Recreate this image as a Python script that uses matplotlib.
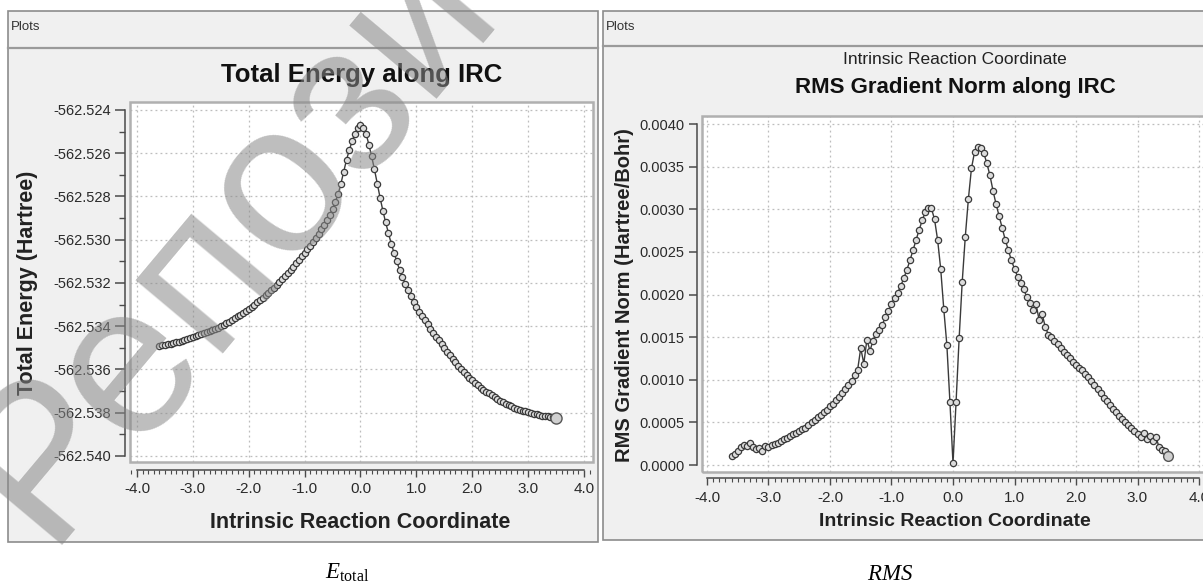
import numpy as np
import matplotlib.pyplot as plt
from matplotlib.patches import Rectangle
from matplotlib.lines import Line2D
from matplotlib.ticker import MultipleLocator, FormatStrFormatter

plt.rcParams['font.family'] = ['Liberation Sans', 'DejaVu Sans']
plt.rcParams['mathtext.fontset'] = 'custom'
plt.rcParams['mathtext.rm'] = 'Liberation Serif'
plt.rcParams['mathtext.it'] = 'Liberation Serif:italic'

W, H = 1203, 585

## IRC points (reactant side, product side)
irc_left = [-3.60, -3.55, -3.50, -3.45, -3.40, -3.35, -3.30, -3.25, -3.20, -3.15,
            -3.10, -3.05, -3.00, -2.95, -2.90, -2.85, -2.80, -2.75, -2.70, -2.65,
            -2.60, -2.55, -2.50, -2.45, -2.40, -2.35, -2.30, -2.25, -2.20, -2.15,
            -2.10, -2.05, -2.00, -1.95, -1.90, -1.85, -1.80, -1.75, -1.70, -1.65,
            -1.60, -1.55, -1.50, -1.45, -1.40, -1.35, -1.30, -1.25, -1.20, -1.15,
            -1.10, -1.05, -1.00, -0.95, -0.90, -0.85, -0.80, -0.75, -0.70, -0.65,
            -0.60, -0.55, -0.50, -0.45, -0.40, -0.35, -0.30, -0.25, -0.20, -0.15,
            -0.10, -0.05, 0.00]
irc_right = [0.05, 0.10, 0.15, 0.20, 0.25, 0.30, 0.35, 0.40, 0.45, 0.50,
             0.55, 0.60, 0.65, 0.70, 0.75, 0.80, 0.85, 0.90, 0.95, 1.00,
             1.05, 1.10, 1.15, 1.20, 1.25, 1.30, 1.35, 1.40, 1.45, 1.50,
             1.55, 1.60, 1.65, 1.70, 1.75, 1.80, 1.85, 1.90, 1.95, 2.00,
             2.05, 2.10, 2.15, 2.20, 2.25, 2.30, 2.35, 2.40, 2.45, 2.50,
             2.55, 2.60, 2.65, 2.70, 2.75, 2.80, 2.85, 2.90, 2.95, 3.00,
             3.05, 3.10, 3.15, 3.20, 3.25, 3.30, 3.35, 3.40, 3.45, 3.50]

## total energy (Hartree)
energy_left = [-562.53490, -562.53488, -562.53486, -562.53484, -562.53481, -562.53478, -562.53475, -562.53471, -562.53467, -562.53463,
               -562.53459, -562.53455, -562.53450, -562.53446, -562.53442, -562.53437, -562.53432, -562.53427, -562.53422, -562.53417,
               -562.53412, -562.53406, -562.53400, -562.53393, -562.53386, -562.53379, -562.53371, -562.53363, -562.53355, -562.53347,
               -562.53338, -562.53329, -562.53320, -562.53310, -562.53300, -562.53290, -562.53279, -562.53268, -562.53257, -562.53246,
               -562.53234, -562.53222, -562.53210, -562.53197, -562.53183, -562.53169, -562.53154, -562.53139, -562.53124, -562.53109,
               -562.53093, -562.53077, -562.53060, -562.53044, -562.53027, -562.53009, -562.52991, -562.52972, -562.52952, -562.52931,
               -562.52910, -562.52884, -562.52856, -562.52824, -562.52790, -562.52740, -562.52685, -562.52630, -562.52585, -562.52545,
               -562.52510, -562.52485, -562.52470]
energy_right = [-562.52485, -562.52510, -562.52560, -562.52615, -562.52675, -562.52740, -562.52805, -562.52865, -562.52920, -562.52970,
                -562.53018, -562.53060, -562.53100, -562.53140, -562.53173, -562.53204, -562.53233, -562.53260, -562.53286, -562.53310,
                -562.53332, -562.53353, -562.53373, -562.53392, -562.53411, -562.53430, -562.53448, -562.53466, -562.53484, -562.53501,
                -562.53518, -562.53535, -562.53551, -562.53567, -562.53583, -562.53598, -562.53612, -562.53625, -562.53638, -562.53650,
                -562.53662, -562.53673, -562.53684, -562.53694, -562.53702, -562.53710, -562.53719, -562.53728, -562.53736, -562.53744,
                -562.53751, -562.53758, -562.53765, -562.53771, -562.53777, -562.53782, -562.53786, -562.53790, -562.53794, -562.53798,
                -562.53801, -562.53804, -562.53807, -562.53810, -562.53813, -562.53815, -562.53817, -562.53819, -562.53821, -562.53823]

## RMS gradient norm (Hartree/Bohr)
rms_left = [0.00010, 0.00013, 0.00017, 0.00021, 0.00024, 0.00022, 0.00026, 0.00021, 0.00019, 0.00020,
            0.00017, 0.00022, 0.00021, 0.00024, 0.00025, 0.00026, 0.00028, 0.00030, 0.00032, 0.00034,
            0.00036, 0.00038, 0.00040, 0.00042, 0.00044, 0.00047, 0.00050, 0.00053, 0.00056, 0.00059,
            0.00062, 0.00065, 0.00069, 0.00072, 0.00076, 0.00080, 0.00085, 0.00089, 0.00094, 0.00099,
            0.00105, 0.00112, 0.00137, 0.00119, 0.00147, 0.00134, 0.00146, 0.00154, 0.00158, 0.00164,
            0.00174, 0.00181, 0.00189, 0.00196, 0.00202, 0.00210, 0.00219, 0.00229, 0.00240, 0.00252,
            0.00264, 0.00276, 0.00287, 0.00297, 0.00302, 0.00301, 0.00288, 0.00264, 0.00230, 0.00183,
            0.00141, 0.00074, 0.00002]
rms_right = [0.00074, 0.00149, 0.00215, 0.00268, 0.00312, 0.00348, 0.00367, 0.00373, 0.00372, 0.00366,
             0.00354, 0.00340, 0.00322, 0.00306, 0.00292, 0.00278, 0.00264, 0.00252, 0.00240, 0.00230,
             0.00221, 0.00213, 0.00206, 0.00197, 0.00190, 0.00182, 0.00189, 0.00170, 0.00177, 0.00162,
             0.00153, 0.00150, 0.00146, 0.00142, 0.00137, 0.00133, 0.00129, 0.00125, 0.00121, 0.00117,
             0.00114, 0.00111, 0.00107, 0.00103, 0.00098, 0.00094, 0.00089, 0.00084, 0.00079, 0.00075,
             0.00070, 0.00066, 0.00062, 0.00058, 0.00054, 0.00051, 0.00047, 0.00044, 0.00040, 0.00036,
             0.00033, 0.00038, 0.00031, 0.00034, 0.00028, 0.00033, 0.00021, 0.00018, 0.00016, 0.00010]

irc = irc_left + irc_right
energy = energy_left + energy_right
rms = rms_left + rms_right


def fx(px):
    return px / W


def fy(py):
    return 1 - py / H


def frac(x0, y0, x1, y1):
    return [x0 / W, 1 - y1 / H, (x1 - x0) / W, (y1 - y0) / H]


fig = plt.figure(figsize=(W / 100, H / 100), dpi=100)


def panel(x0, x1, y0, y1, hdr):
    fig.add_artist(Rectangle((fx(x0), fy(y1)), fx(x1) - fx(x0), fy(y0) - fy(y1),
                             transform=fig.transFigure, fc='#f0f0f0', ec='#8c8c8c', lw=1.2, zorder=-5))
    fig.add_artist(Line2D([fx(x0), fx(x1)], [fy(hdr), fy(hdr)], transform=fig.transFigure,
                          color='#9a9a9a', lw=1.6, zorder=-4))
    fig.text(fx(x0 + 3), fy((y0 + hdr) / 2 - 2), 'Plots', fontsize=9.5, color='#333333',
             va='center', ha='left')


panel(8, 598, 11, 542, 48)
panel(603, 1215, 11, 540, 46)


def style(ax, xlim, ylim, ymaj, ymin, yfmt, ybounds, yoff, xoff, ylen):
    ax.set_facecolor('white')
    ax.spines['top'].set_visible(False)
    ax.spines['right'].set_visible(False)
    ax.spines['left'].set_position(('outward', yoff))
    ax.spines['bottom'].set_position(('outward', xoff))
    for s in ['left', 'bottom']:
        ax.spines[s].set_color('#4a4a4a')
        ax.spines[s].set_linewidth(1.1)
    ax.spines['left'].set_bounds(*ybounds)
    ax.spines['bottom'].set_bounds(-4, 4)
    ax.add_patch(Rectangle((0, 0), 1, 1, transform=ax.transAxes, fill=False,
                           ec='#b0b0b0', lw=1.8, clip_on=False, zorder=6))
    ax.set_xlim(*xlim)
    ax.set_ylim(*ylim)
    ax.xaxis.set_major_locator(MultipleLocator(1.0))
    ax.xaxis.set_minor_locator(MultipleLocator(0.1))
    ax.yaxis.set_major_locator(MultipleLocator(ymaj))
    if ymin:
        ax.yaxis.set_minor_locator(MultipleLocator(ymin))
    ax.xaxis.set_major_formatter(FormatStrFormatter('%.1f'))
    ax.yaxis.set_major_formatter(FormatStrFormatter(yfmt))
    ax.grid(True, which='major', color='#bdbdbd', ls=(0, (1.5, 2.5)), lw=0.9)
    ax.tick_params(axis='x', which='major', direction='out', length=5, width=1,
                   color='#4a4a4a', labelsize=11, labelcolor='#2a2a2a', pad=4)
    ax.tick_params(axis='x', which='minor', direction='out', length=2.8, width=0.8, color='#4a4a4a')
    ax.tick_params(axis='y', which='major', direction='out', length=ylen, width=1.1,
                   color='#4a4a4a', labelsize=10.5, labelcolor='#2a2a2a', pad=3)
    ax.tick_params(axis='y', which='minor', direction='out', length=ylen * 0.6, width=1,
                   color='#4a4a4a')


## left: total energy
ax1 = fig.add_axes(frac(130, 102, 593, 462))
style(ax1, (-4.125, 4.161), (-562.54028, -562.52363), 0.002, 0.001, '%.3f',
      (-562.540, -562.524), 3.6, 5.5, 7)
ax1.plot(irc, energy, '-o', color='#3a3a3a', lw=1.0, ms=4.5,
         mfc='#dcdcdc', mec='#3a3a3a', mew=0.9, zorder=3)
ax1.plot(irc[-1], energy[-1], 'o', ms=8, mfc='#d0d0d0', mec='#555555', mew=1.0, zorder=4)

fig.text(fx(362), fy(75), 'Total Energy along IRC', fontsize=18.5, fontweight='bold',
         ha='center', va='center', color='#111111')
fig.text(fx(28), fy(283), 'Total Energy (Hartree)', fontsize=15.5, fontweight='bold',
         rotation=90, ha='center', va='center', color='#222222')
fig.text(fx(360), fy(522), 'Intrinsic Reaction Coordinate', fontsize=15.5, fontweight='bold',
         ha='center', va='center', color='#222222')

## right: RMS gradient norm
ax2 = fig.add_axes(frac(702, 116, 1208, 472))
style(ax2, (-4.081, 4.146), (-0.000082, 0.004094), 0.0005, None, '%.4f',
      (0.0, 0.004), 3.6, 4.5, 6)
ax2.plot(irc, rms, '-o', color='#3a3a3a', lw=1.0, ms=4.5,
         mfc='#dcdcdc', mec='#3a3a3a', mew=0.9, zorder=3)
ax2.plot(irc[-1], rms[-1], 'o', ms=7, mfc='#d0d0d0', mec='#555555', mew=1.0, zorder=4)

fig.text(fx(955), fy(60), 'Intrinsic Reaction Coordinate', fontsize=12.5,
         ha='center', va='center', color='#222222')
fig.text(fx(955), fy(88), 'RMS Gradient Norm along IRC', fontsize=16, fontweight='bold',
         ha='center', va='center', color='#111111')
fig.text(fx(625), fy(295), 'RMS Gradient Norm (Hartree/Bohr)', fontsize=14.5, fontweight='bold',
         rotation=90, ha='center', va='center', color='#222222')
fig.text(fx(955), fy(521), 'Intrinsic Reaction Coordinate', fontsize=14, fontweight='bold',
         ha='center', va='center', color='#222222')

## captions under the panels
fig.text(fx(347), fy(573), r'$E_{\mathrm{total}}$', fontsize=16.5, ha='center', va='center')
fig.text(fx(890), fy(573), r'$RMS$', fontsize=16.5, ha='center', va='center')

## watermark
fig.text(fx(45), fy(545), 'Репозиторий', rotation=50, rotation_mode='anchor',
         ha='left', va='baseline', fontsize=155, color='#888888', alpha=0.55, zorder=100)

plt.savefig('out.png', dpi=100)
